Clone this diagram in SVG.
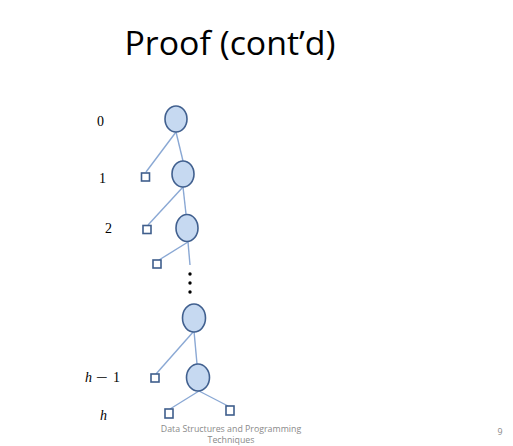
<svg xmlns="http://www.w3.org/2000/svg" width="513" height="446" viewBox="0 0 513 446">
<style>
.node ellipse{fill:#c6d9f1;stroke:#41608f;stroke-width:1.6}
.leaf rect{fill:#ffffff;stroke:#3f5e8c;stroke-width:1.6}
.edges line{stroke:#8aa8d4;stroke-width:1.4}
.lbl{font-family:"Liberation Serif",serif;font-size:14px;fill:#000}
.it{font-style:italic}
.foot{font-family:"Open Sans","Liberation Sans",sans-serif;font-size:8.8px;fill:#8a8a8a}
</style>
<rect width="513" height="446" fill="#ffffff"/>
<text x="230" y="55" text-anchor="middle" font-family="Open Sans, Liberation Sans, sans-serif" font-size="33" textLength="211" lengthAdjust="spacingAndGlyphs" fill="#000">Proof (cont’d)</text>
<g class="edges">
<line x1="176" y1="132" x2="146" y2="172"/>
<line x1="176" y1="132" x2="183" y2="161"/>
<line x1="183" y1="187" x2="148" y2="225"/>
<line x1="183" y1="187" x2="186" y2="214"/>
<line x1="188" y1="242" x2="159" y2="260"/>
<line x1="188" y1="242" x2="190" y2="265"/>
<line x1="194" y1="331" x2="156" y2="374"/>
<line x1="194" y1="331" x2="197" y2="364"/>
<line x1="199" y1="391" x2="170" y2="409"/>
<line x1="199" y1="391" x2="228" y2="406"/>
</g>
<g id="n0" class="node"><ellipse cx="176" cy="119" rx="11" ry="13"/></g>
<g id="n1" class="node"><ellipse cx="183" cy="174" rx="11" ry="13"/></g>
<g id="n2" class="node"><ellipse cx="187" cy="228" rx="11" ry="13.5"/></g>
<g id="n3" class="node"><ellipse cx="194" cy="318" rx="11.5" ry="14"/></g>
<g id="n4" class="node"><ellipse cx="198" cy="377.5" rx="11.5" ry="13.5"/></g>
<g id="l1" class="leaf"><rect x="141.5" y="173" width="8" height="8"/></g>
<g id="l2" class="leaf"><rect x="143" y="225.5" width="8" height="8"/></g>
<g id="l3" class="leaf"><rect x="153" y="260" width="8" height="8"/></g>
<g id="l4" class="leaf"><rect x="151" y="374" width="8" height="8"/></g>
<g id="l5" class="leaf"><rect x="165" y="409" width="8" height="9"/></g>
<g id="l6" class="leaf"><rect x="226" y="406" width="8" height="9"/></g>
<g id="dots" fill="#000">
<circle cx="190" cy="274" r="1.7"/>
<circle cx="190" cy="283" r="1.7"/>
<circle cx="190" cy="292" r="1.7"/>
</g>
<text class="lbl" x="97" y="126">0</text>
<text class="lbl" x="99" y="183">1</text>
<text class="lbl" x="105" y="233">2</text>
<text class="lbl" y="382"><tspan class="it" x="85">h</tspan><tspan x="96" textLength="12" lengthAdjust="spacingAndGlyphs">−</tspan><tspan x="113">1</tspan></text>
<text class="lbl it" x="100" y="420">h</text>
<text class="foot" x="231" y="432" text-anchor="middle">Data Structures and Programming</text>
<text class="foot" x="231" y="443" text-anchor="middle">Techniques</text>
<text class="foot" x="500" y="435" text-anchor="middle">9</text>
</svg>
